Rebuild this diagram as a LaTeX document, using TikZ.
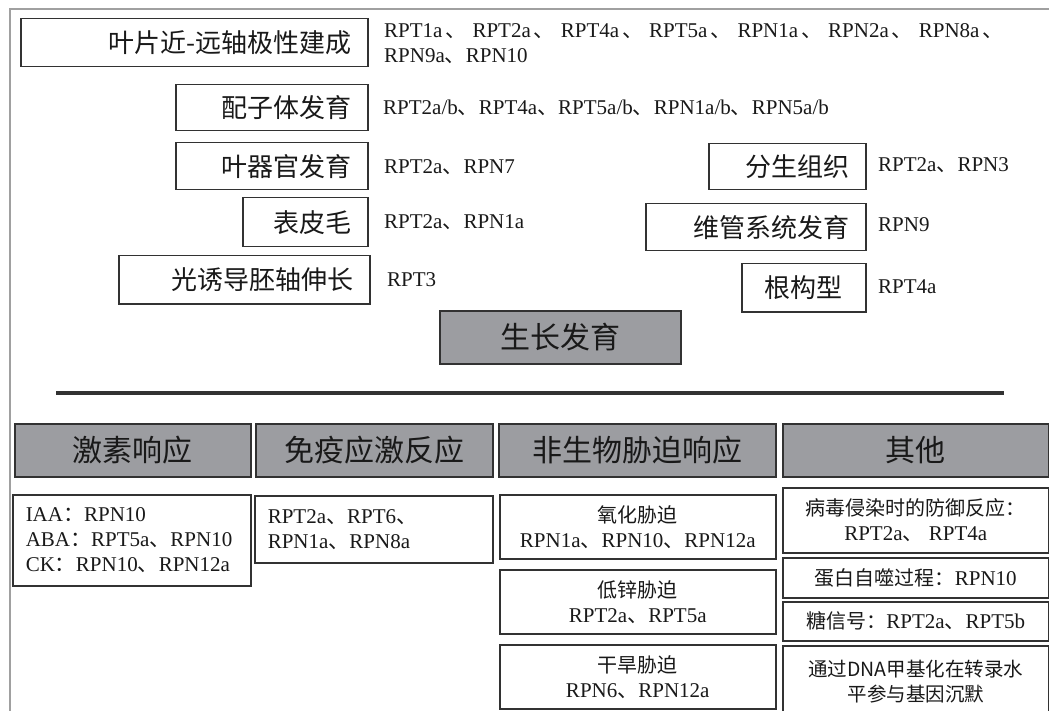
\documentclass[tikz,border=0pt]{standalone}
\usepackage{fontspec}
\setmainfont{Liberation Serif}
\newfontfamily\cjk{Noto Sans CJK SC}
\newcommand{\zh}[1]{{\cjk\fontsize{20}{25}\selectfont #1}}
\newcommand{\dun}{{\cjk 、}}
\newcommand{\mhao}{{\cjk ：}}
\newcommand{\sdun}{\hspace{3pt}{\cjk 、}\hspace{6pt}}
\definecolor{hdr}{RGB}{156,157,161}
\definecolor{bd}{RGB}{50,50,50}
\definecolor{frm}{RGB}{160,160,160}
\definecolor{tx}{RGB}{25,25,25}
\begin{document}
\begin{tikzpicture}[x=1pt,y=-1pt,
  box/.style={draw=bd, line width=1.5pt, fill=white, anchor=north west, inner ysep=0pt, text=tx},
  topbox/.style={box, inner xsep=16pt, align=right, font=\cjk\fontsize{26}{30}\selectfont},
  cbox/.style={box, inner xsep=8pt, align=center, font=\fontsize{21}{25}\selectfont},
  hbox/.style={box, fill=hdr, inner xsep=4pt, align=center, font=\cjk\fontsize{30}{34}\selectfont},
  lab/.style={anchor=west, inner sep=0pt, align=left, text=tx, font=\fontsize{21}{25}\selectfont}]
\useasboundingbox (0,0) rectangle (1049,711);
\fill[white] (0,0) rectangle (1049,711);
% outer frame
\coordinate (fa) at (1080,9);
\coordinate (fb) at (10,730);
\draw[frm, line width=2.5pt] (fa) -| (fb);
% top section
\node[topbox, minimum width=347pt, minimum height=48pt, text width=315pt] (b1) at (20,18) {叶片近-远轴极性建成};
\node[topbox, minimum width=192pt, minimum height=46pt, text width=160pt] (b2) at (175,84) {配子体发育};
\node[topbox, minimum width=192pt, minimum height=47pt, text width=160pt] (b3) at (175,142) {叶器官发育};
\node[topbox, minimum width=125pt, minimum height=49pt, text width=93pt] (b4) at (242,197) {表皮毛};
\node[topbox, minimum width=251pt, minimum height=48pt, text width=219pt] (b5) at (118,255) {光诱导胚轴伸长};
\node[topbox, minimum width=157pt, minimum height=46pt, text width=125pt] (r1) at (708,143) {分生组织};
\node[topbox, minimum width=220pt, minimum height=47pt, text width=188pt] (r2) at (645,203) {维管系统发育};
\node[topbox, align=center, minimum width=124pt, minimum height=48pt, text width=92pt] (r3) at (741,263) {根构型};
\node[hbox, minimum width=241pt, minimum height=53pt] (g) at (439,310) {生长发育};

\node[lab] (t1) at (384,43.5) {RPT1a\sdun RPT2a\sdun RPT4a\sdun RPT5a\sdun RPN1a\sdun RPN2a\sdun RPN8a\hspace{3pt}\dun\\RPN9a\dun RPN10};
\node[lab] (t2) at (383,108) {RPT2a/b\dun RPT4a\dun RPT5a/b\dun RPN1a/b\dun RPN5a/b};
\node[lab] (t3) at (384,167) {RPT2a\dun RPN7};
\node[lab] (t4) at (384,222) {RPT2a\dun RPN1a};
\node[lab] (t5) at (387,280) {RPT3};
\node[lab] (s1) at (878,165) {RPT2a\dun RPN3};
\node[lab] (s2) at (878,225) {RPN9};
\node[lab] (s3) at (878,287) {RPT4a};

% divider
\coordinate (la) at (56,393);
\coordinate (lb) at (1004,393);
\draw[bd, line width=4pt] (la) -- (lb);

% headers
\node[hbox, minimum width=236pt, minimum height=53pt] (h1) at (14,423) {激素响应};
\node[hbox, minimum width=237pt, minimum height=53pt] (h2) at (255,423) {免疫应激反应};
\node[hbox, minimum width=277pt, minimum height=53pt] (h3) at (498,423) {非生物胁迫响应};
\node[hbox, minimum width=266pt, minimum height=53pt] (h4) at (782,423) {其他};

% contents
\node[cbox, align=left, inner xsep=13pt, minimum width=238pt, minimum height=91pt, text width=212pt] (c1) at (12,494) {IAA\mhao RPN10\\ABA\mhao RPT5a\dun RPN10\\CK\mhao RPN10\dun RPN12a};
\node[cbox, align=left, inner xsep=13pt, minimum width=238pt, minimum height=67pt, text width=212pt] (c2) at (254,495) {RPT2a\dun RPT6\dun\\RPN1a\dun RPN8a};
\node[cbox, minimum width=276pt, minimum height=64pt] (c3a) at (499,494) {\zh{氧化胁迫}\\RPN1a\dun RPN10\dun RPN12a};
\node[cbox, minimum width=276pt, minimum height=64pt] (c3b) at (499,569) {\zh{低锌胁迫}\\RPT2a\dun RPT5a};
\node[cbox, minimum width=276pt, minimum height=64pt] (c3c) at (499,644) {\zh{干旱胁迫}\\RPN6\dun RPN12a};
\node[cbox, minimum width=266pt, minimum height=65pt] (c4a) at (782,487) {\zh{病毒侵染时的防御反应：}\\RPT2a\dun{} RPT4a};
\node[cbox, minimum width=266pt, minimum height=40pt] (c4b) at (782,557) {\zh{蛋白自噬过程：}RPN10};
\node[cbox, minimum width=266pt, minimum height=39pt] (c4c) at (782,601) {\zh{糖信号：}RPT2a\dun RPT5b};
\node[cbox, minimum width=266pt, minimum height=71pt, font=\cjk\fontsize{19.5}{25}\selectfont] (c4d) at (782,645) {通过DNA甲基化在转录水\\平参与基因沉默};
\end{tikzpicture}
\end{document}
